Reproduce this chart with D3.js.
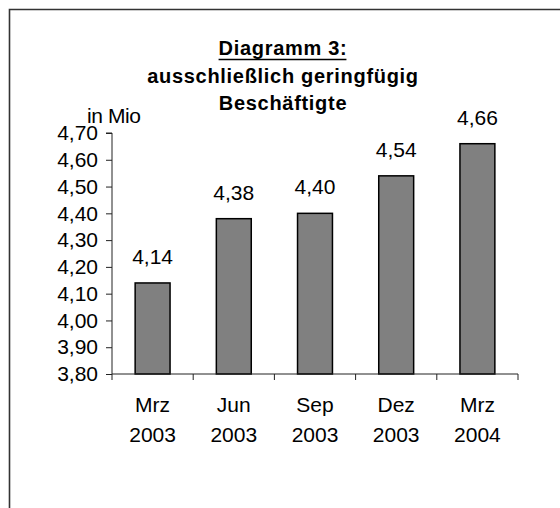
<!DOCTYPE html>
<html><head><meta charset="utf-8">
<script src="https://cdn.jsdelivr.net/npm/d3@7"></script>
<style>
html,body{margin:0;padding:0;background:#fff;}
svg{display:block;font-family:"Liberation Sans",Arial,sans-serif;}
</style></head>
<body>
<svg id="chart" width="560" height="508"></svg>
<script>
const categories = [["Mrz","2003"],["Jun","2003"],["Sep","2003"],["Dez","2003"],["Mrz","2004"]];
const values = [4.14, 4.38, 4.40, 4.54, 4.66];
const yTicks = [3.8, 3.9, 4.0, 4.1, 4.2, 4.3, 4.4, 4.5, 4.6, 4.7];
const titleLines = ["Diagramm 3:", "ausschließlich geringfügig", "Beschäftigte"];
const unitLabel = "in Mio";

const loc = d3.formatLocale({decimal: ",", thousands: ".", grouping: [3], currency: ["", " €"]});
const fmt = loc.format(".2f");

const svg = d3.select("#chart");
const FS = 21;

// frame
svg.append("path").attr("d", "M9.5,520 V9.5 H570")
  .attr("fill", "none").attr("stroke", "#333").attr("stroke-width", 1.6);

const keys = categories.map((c, i) => i);
const x = d3.scaleBand().domain(keys).range([112, 518]).paddingInner(0.57).paddingOuter(0.285);
const y = d3.scaleLinear().domain([3.8, 4.7]).range([374, 133]);

// title
const tcx = 283;
const tY = [55, 83, 110];
const titleNodes = titleLines.map((t, i) =>
  svg.append("text").attr("x", tcx).attr("y", tY[i]).attr("text-anchor", "middle")
    .attr("font-size", 20).attr("font-weight", "bold").attr("letter-spacing", 0.7)
    .attr("fill", "#000").text(t).node());
{
  const bb = titleNodes[0].getBBox();
  svg.append("line").attr("x1", bb.x).attr("x2", bb.x + bb.width - 1)
    .attr("y1", 59.5).attr("y2", 59.5).attr("stroke", "#000").attr("stroke-width", 1.6);
}

// y axis
const yAxis = d3.axisLeft(y).tickValues(yTicks).tickFormat(fmt).tickSize(6).tickPadding(8);
const gy = svg.append("g").attr("transform", "translate(112,0)").call(yAxis);
gy.select(".domain").attr("stroke", "#222").attr("d", `M-6,${y(4.7)}H0V${y(3.8)}`);
gy.selectAll(".tick line").attr("stroke", "#222");
gy.selectAll(".tick text").attr("font-size", FS).attr("fill", "#000")
  .attr("font-family", "\"Liberation Sans\",Arial,sans-serif");

// unit label
svg.append("text").attr("x", 87).attr("y", 123).attr("font-size", FS)
  .attr("letter-spacing", -0.4).attr("fill", "#000").text(unitLabel);

// bars
svg.append("g").selectAll("rect").data(values).join("rect")
  .attr("x", (d, i) => x(i)).attr("width", x.bandwidth())
  .attr("y", d => y(d)).attr("height", d => y(3.8) - y(d))
  .attr("fill", "#808080").attr("stroke", "#000").attr("stroke-width", 1.5);

// value labels
svg.append("g").selectAll("text").data(values).join("text")
  .attr("x", (d, i) => x(i) + x.bandwidth() / 2).attr("y", d => y(d) - 19)
  .attr("text-anchor", "middle").attr("font-size", FS)
  .attr("fill", "#000").text(d => fmt(d));

// x axis
const gap = (x.step() - x.bandwidth()) / 2;
const bounds = keys.map(k => x(k) - gap).concat([x.range()[1]]);
const gx = svg.append("g");
gx.append("line").attr("x1", 112).attr("x2", 518).attr("y1", 374).attr("y2", 374)
  .attr("stroke", "#222").attr("stroke-width", 1);
gx.selectAll("line.t").data(bounds).join("line").attr("class", "t")
  .attr("x1", d => d).attr("x2", d => d).attr("y1", 374).attr("y2", 380)
  .attr("stroke", "#222");
const lab = gx.selectAll("text").data(categories).join("text")
  .attr("text-anchor", "middle").attr("font-size", FS)
  .attr("fill", "#000");
lab.append("tspan").attr("x", (d, i) => x(i) + x.bandwidth() / 2).attr("y", 412).text(d => d[0]);
lab.append("tspan").attr("x", (d, i) => x(i) + x.bandwidth() / 2).attr("y", 442).text(d => d[1]);
</script>
</body></html>
